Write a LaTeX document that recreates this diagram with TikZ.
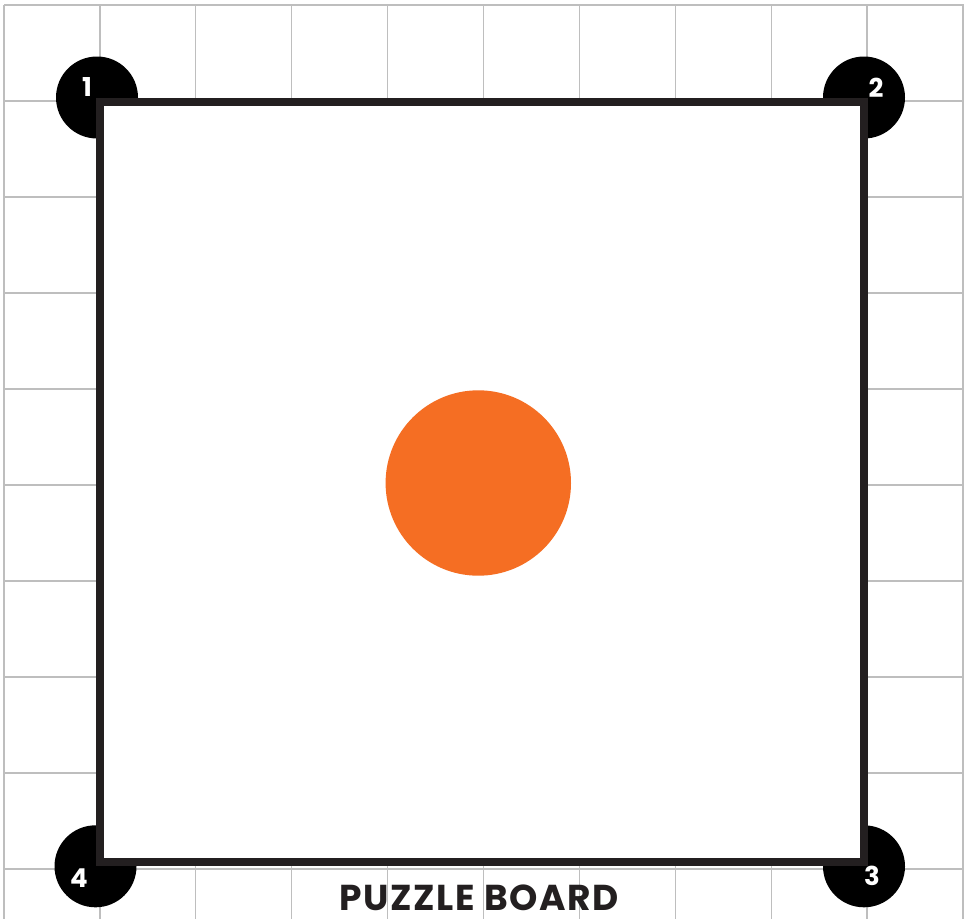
\documentclass[tikz,border=0pt]{standalone}
\usepackage{fontspec}
\setmainfont{Poppins}
\definecolor{gridc}{RGB}{190,190,190}
\definecolor{boardc}{RGB}{35,31,32}
\definecolor{dotc}{RGB}{245,110,35}
\tikzset{
  gridline/.style={draw=gridc, line width=1.3pt},
  corner/.style={circle, fill=black, minimum size=82pt, inner sep=0pt},
  cornerlabel/.style={text=white, font=\fontsize{26}{26}\selectfont\bfseries, inner sep=0pt},
  boardbox/.style={draw=boardc, line width=8pt, fill=white, minimum width=764pt, minimum height=760pt, inner sep=0pt},
  dot/.style={circle, fill=dotc, minimum size=185.4pt, inner sep=0pt},
  title/.style={text=boardc, font=\fontsize{36}{36}\selectfont\bfseries\addfontfeature{LetterSpace=4.5}, inner sep=0pt}
}
\begin{document}
\begin{tikzpicture}[x=1pt,y=-1pt]
\useasboundingbox (0,0) rectangle (964,919);
\fill[white] (0,0) rectangle (964,919);
\foreach \i in {0,...,10} \draw[gridline] ({4+95.9*\i},5) -- ({4+95.9*\i},919);
\foreach \j in {0,...,9} \draw[gridline] (4,{5+96*\j}) -- (964,{5+96*\j});
\node[corner] (c1) at (97,97.5) {};
\node[corner] (c2) at (864,97.5) {};
\node[corner] (c3) at (864,866.3) {};
\node[corner] (c4) at (95.5,866.3) {};
\node[boardbox] (board) at (482,482) {};
\node[dot] (dot) at (478.3,483) {};
\node[cornerlabel] (l1) at (87,87) {1};
\node[cornerlabel] (l2) at (876,88) {2};
\node[cornerlabel] (l3) at (872,876) {3};
\node[cornerlabel] (l4) at (79,878) {4};
\node[title] (t) at (479,897.5) {PUZZLE BOARD};
\end{tikzpicture}
\end{document}
